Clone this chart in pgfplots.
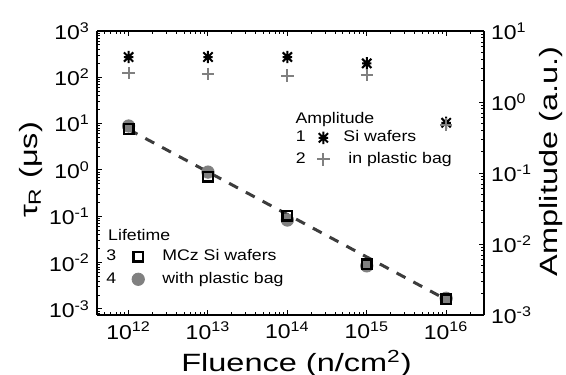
\documentclass[border=0pt]{standalone}
\usepackage{fontspec}
\setmainfont{Liberation Sans}[FakeStretch=1.15]
\newfontfamily\labelfont{Liberation Sans}[FakeStretch=1.3]
\usepackage{pgfplots}
\pgfplotsset{compat=1.18}

\definecolor{markgray}{HTML}{808080}
\definecolor{fitgray}{HTML}{3C3C3C}

% eight-armed star marker
\pgfdeclareplotmark{star8}{%
  \pgfpathmoveto{\pgfqpoint{0pt}{\pgfplotmarksize}}%
  \pgfpathlineto{\pgfqpoint{0pt}{-\pgfplotmarksize}}%
  \pgfpathmoveto{\pgfqpoint{-0.75\pgfplotmarksize}{0pt}}%
  \pgfpathlineto{\pgfqpoint{0.75\pgfplotmarksize}{0pt}}%
  \pgfpathmoveto{\pgfqpoint{-0.75\pgfplotmarksize}{-0.75\pgfplotmarksize}}%
  \pgfpathlineto{\pgfqpoint{0.75\pgfplotmarksize}{0.75\pgfplotmarksize}}%
  \pgfpathmoveto{\pgfqpoint{-0.75\pgfplotmarksize}{0.75\pgfplotmarksize}}%
  \pgfpathlineto{\pgfqpoint{0.75\pgfplotmarksize}{-0.75\pgfplotmarksize}}%
  \pgfusepathqstroke}

\tikzset{
  sqmark/.style={black, line width=1.2pt, mark=square, mark size=2.4pt},
  dotmark/.style={markgray, mark=*, mark size=3.1pt},
  astmark/.style={black, line width=1.0pt, mark=star8, mark size=3.1pt},
  plusmark/.style={markgray, line width=1.1pt, mark=+, mark size=3.1pt},
  legfont/.style={font=\fontsize{7.7}{9}\selectfont},
}

\pgfplotsset{
  log number format basis/.code 2 args={#1\textsuperscript{\pgfmathprintnumber[assume math mode=true]{#2}}},
  % legend image: a running number followed by the marker
  numbered/.style n args={4}{
    legend image code/.code={
      \node[black, anchor=center, inner sep=0pt] at (0pt,0pt) {#1};
      \draw[#2] plot coordinates {(#3,0pt)};
      \path (#4,0pt);
    },
  },
}

\begin{document}
\begin{tikzpicture}
% recombination lifetime (left axis)
\begin{axis}[
  scale only axis, width=193.5pt, height=142pt,
  xmode=log, ymode=log,
  xmin=4e11, xmax=3e16,
  ymin=7.4e-4, ymax=1e3,
  axis y line*=left,
  tick align=inside,
  major tick length=2.5pt, minor tick length=1.4pt,
  every tick/.style={black, line width=0.5pt},
  axis line style={line width=0.8pt},
  tick label style={font=\fontsize{10}{12}\selectfont},
  xtick={1e12,1e13,1e14,1e15,1e16},
  minor xtick={5e11,6e11,7e11,8e11,9e11,
    2e12,3e12,4e12,5e12,6e12,7e12,8e12,9e12,
    2e13,3e13,4e13,5e13,6e13,7e13,8e13,9e13,
    2e14,3e14,4e14,5e14,6e14,7e14,8e14,9e14,
    2e15,3e15,4e15,5e15,6e15,7e15,8e15,9e15,2e16},
  ytick={1e-3,1e-2,1e-1,1,1e1,1e2,1e3},
  minor ytick={8e-4,9e-4,
    2e-3,3e-3,4e-3,5e-3,6e-3,7e-3,8e-3,9e-3,
    2e-2,3e-2,4e-2,5e-2,6e-2,7e-2,8e-2,9e-2,
    2e-1,3e-1,4e-1,5e-1,6e-1,7e-1,8e-1,9e-1,
    2,3,4,5,6,7,8,9,20,30,40,50,60,70,80,90,
    200,300,400,500,600,700,800,900},
  xlabel={Fluence (n/cm\textsuperscript{2})},
  ylabel={τ\textsubscript{R} (μs)},
  xlabel style={font=\labelfont\fontsize{12.5}{14}\selectfont,
    at={(axis description cs:0.5,0)}, anchor=base, yshift=-28pt, xshift=3pt},
  ylabel style={font=\labelfont\fontsize{12.5}{14}\selectfont,
    at={(axis description cs:0,0.5)}, anchor=base, yshift=30pt, xshift=1.5pt},
  legend cell align=left,
  reverse legend,
  legend style={draw=none, fill=none, at={(axis description cs:0.023,0.1655)},
    anchor=west, legfont, row sep=0.2pt, inner sep=0pt, column sep=2pt},
]
\addplot[fitgray, line width=1.5pt, dash pattern=on 5pt off 4.5pt, forget plot]
  coordinates {(1e12,7.5) (1e16,1.6e-3)};
\addplot[only marks, dotmark, numbered={4}{dotmark}{13.5pt}{21pt}]
  coordinates {(1e12,8.9) (1e13,0.9) (1e14,0.083) (1e15,0.0085) (1e16,0.0017)};
\addplot[only marks, sqmark, numbered={3}{sqmark}{13.5pt}{21pt}]
  coordinates {(1e12,7.7) (1e13,0.71) (1e14,0.102) (1e15,0.0092) (1e16,0.0016)};
\legend{with plastic bag, MCz Si wafers}
\node[anchor=west, legfont, inner sep=0pt]
  at (axis description cs:0.028,0.282) {Lifetime};
\coordinate (BL) at (rel axis cs:0,0);
\coordinate (TR) at (rel axis cs:1,1);
\end{axis}
% amplitude (right axis)
\begin{axis}[
  scale only axis, width=193.5pt, height=142pt,
  xmode=log, ymode=log,
  xmin=4e11, xmax=3e16,
  ymin=1e-3, ymax=1e1,
  axis y line*=right, axis x line=none,
  tick align=inside,
  major tick length=2.5pt, minor tick length=1.4pt,
  every tick/.style={black, line width=0.5pt},
  axis line style={line width=0.8pt},
  tick label style={font=\fontsize{10}{12}\selectfont},
  ytick={1e-3,1e-2,1e-1,1,1e1},
  minor ytick={2e-3,3e-3,4e-3,5e-3,6e-3,7e-3,8e-3,9e-3,
    2e-2,3e-2,4e-2,5e-2,6e-2,7e-2,8e-2,9e-2,
    2e-1,3e-1,4e-1,5e-1,6e-1,7e-1,8e-1,9e-1,
    2,3,4,5,6,7,8,9},
  ylabel={Amplitude (a.u.)},
  ylabel style={font=\labelfont\fontsize{12.5}{14}\selectfont,
    at={(axis description cs:1,0.5)}, anchor=base, yshift=-36.5pt, xshift=5.75pt},
  legend cell align=left,
  legend style={draw=none, fill=none, at={(axis description cs:0.513,0.586)},
    anchor=west, legfont, row sep=-0.3pt, inner sep=0pt, column sep=2pt},
]
\addplot[only marks, astmark, numbered={1}{astmark}{11.25pt}{16.75pt}]
  coordinates {(1e12,4.3) (1e13,4.3) (1e14,4.3) (1e15,3.5) (1e16,0.51)};
\addplot[only marks, plusmark, numbered={2}{plusmark}{11.25pt}{16.75pt}]
  coordinates {(1e12,2.55) (1e13,2.5) (1e14,2.35) (1e15,2.4) (1e16,0.48)};
\legend{Si wafers, \ in plastic bag}
\node[anchor=west, legfont, inner sep=0pt]
  at (axis description cs:0.512,0.69) {Amplitude};
\end{axis}
% frame of the figure
\pgfresetboundingbox
\path ([xshift=-48.5pt, yshift=-29.5pt]BL) rectangle ([xshift=41pt, yshift=15.5pt]TR);
\end{tikzpicture}
\end{document}
